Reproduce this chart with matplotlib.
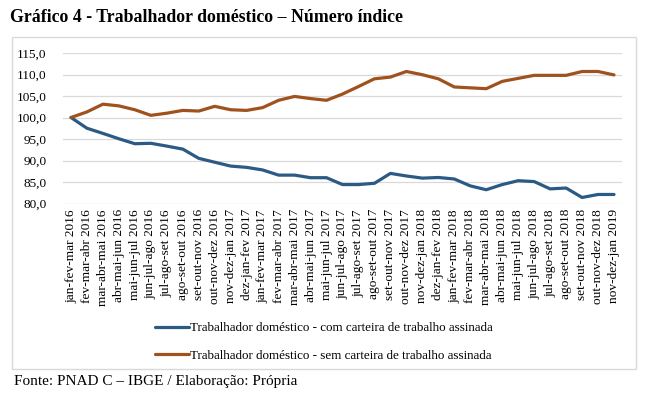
import matplotlib
matplotlib.use("Agg")
import matplotlib.pyplot as plt
from matplotlib.patches import Rectangle

plt.rcParams['font.family'] = ['Liberation Serif', 'DejaVu Serif']

periods = [
    "jan-fev-mar 2016", "fev-mar-abr 2016", "mar-abr-mai 2016", "abr-mai-jun 2016",
    "mai-jun-jul 2016", "jun-jul-ago 2016", "jul-ago-set 2016", "ago-set-out 2016",
    "set-out-nov 2016", "out-nov-dez 2016", "nov-dez-jan 2017", "dez-jan-fev 2017",
    "jan-fev-mar 2017", "fev-mar-abr 2017", "mar-abr-mai 2017", "abr-mai-jun 2017",
    "mai-jun-jul 2017", "jun-jul-ago 2017", "jul-ago-set 2017", "ago-set-out 2017",
    "set-out-nov 2017", "out-nov-dez 2017", "nov-dez-jan 2018", "dez-jan-fev 2018",
    "jan-fev-mar 2018", "fev-mar-abr 2018", "mar-abr-mai 2018", "abr-mai-jun 2018",
    "mai-jun-jul 2018", "jun-jul-ago 2018", "jul-ago-set 2018", "ago-set-out 2018",
    "set-out-nov 2018", "out-nov-dez 2018", "nov-dez-jan 2019",
]

com_carteira = [
    100.0, 97.5, 96.3, 95.05, 93.9, 94.0, 93.35, 92.65, 90.5, 89.6,
    88.7, 88.4, 87.8, 86.6, 86.6, 86.0, 86.0, 84.4, 84.4, 84.7,
    87.0, 86.4, 85.9, 86.05, 85.7, 84.1, 83.2, 84.4, 85.3, 85.1,
    83.4, 83.6, 81.4, 82.1, 82.1,
]

sem_carteira = [
    100.0, 101.3, 103.1, 102.7, 101.8, 100.5, 101.0, 101.65, 101.5, 102.6,
    101.8, 101.65, 102.3, 104.0, 104.9, 104.4, 104.0, 105.45, 107.2, 109.0,
    109.4, 110.7, 109.95, 109.0, 107.1, 106.9, 106.7, 108.4, 109.1, 109.8,
    109.8, 109.8, 110.7, 110.7, 109.9,
]

y_ticks = [80, 85, 90, 95, 100, 105, 110, 115]
y_tick_labels = ["80,0", "85,0", "90,0", "95,0", "100,0", "105,0", "110,0", "115,0"]

series_labels = [
    "Trabalhador doméstico - com carteira de trabalho assinada",
    "Trabalhador doméstico - sem carteira de trabalho assinada",
]
title = "Gráfico 4 - Trabalhador doméstico – Número índice"
source = "Fonte: PNAD C – IBGE / Elaboração: Própria"

W, H = 652, 394
fig = plt.figure(figsize=(W / 100, H / 100), dpi=100)

# chart border box
fig.patches.append(Rectangle((12 / W, 1 - 369 / H), (636 - 12) / W, (369 - 37) / H,
                             transform=fig.transFigure, fill=False,
                             edgecolor='#d9d9d9', linewidth=1.0))

ax = fig.add_axes([63 / W, 1 - 203.5 / H, (622 - 63) / W, (203.5 - 53) / H])
x = list(range(len(periods)))
ax.plot(x, com_carteira, color='#2B5A84', linewidth=2.3, solid_capstyle='round',
        label=series_labels[0])
ax.plot(x, sem_carteira, color='#A0521E', linewidth=2.3, solid_capstyle='round',
        label=series_labels[1])

ax.set_ylim(80, 115)
ax.set_xlim(-0.5, len(periods) - 0.5)
ax.set_yticks(y_ticks)
ax.set_yticklabels(y_tick_labels, fontsize=9.5)
ax.set_xticks(x)
ax.set_xticklabels(periods, rotation=90, fontsize=9.6)
ax.tick_params(axis='both', length=0, pad=4)
ax.tick_params(axis='y', pad=12)
ax.grid(axis='y', color='#d9d9d9', linewidth=0.9)
ax.set_axisbelow(True)
for s in ax.spines.values():
    s.set_visible(False)

leg = fig.legend(loc='upper left', bbox_to_anchor=(150 / W, 1 - 317 / H),
                 frameon=False, fontsize=9.4, handlelength=2.6, handletextpad=0.1,
                 labelspacing=1.15, borderaxespad=0)

fig.text(10 / W, 1 - 17 / H, title, fontsize=12.8, fontweight='bold',
         va='center', ha='left')
fig.text(14 / W, 1 - 381 / H, source, fontsize=11, va='center', ha='left')

fig.savefig("out.png", dpi=100, facecolor='white')
